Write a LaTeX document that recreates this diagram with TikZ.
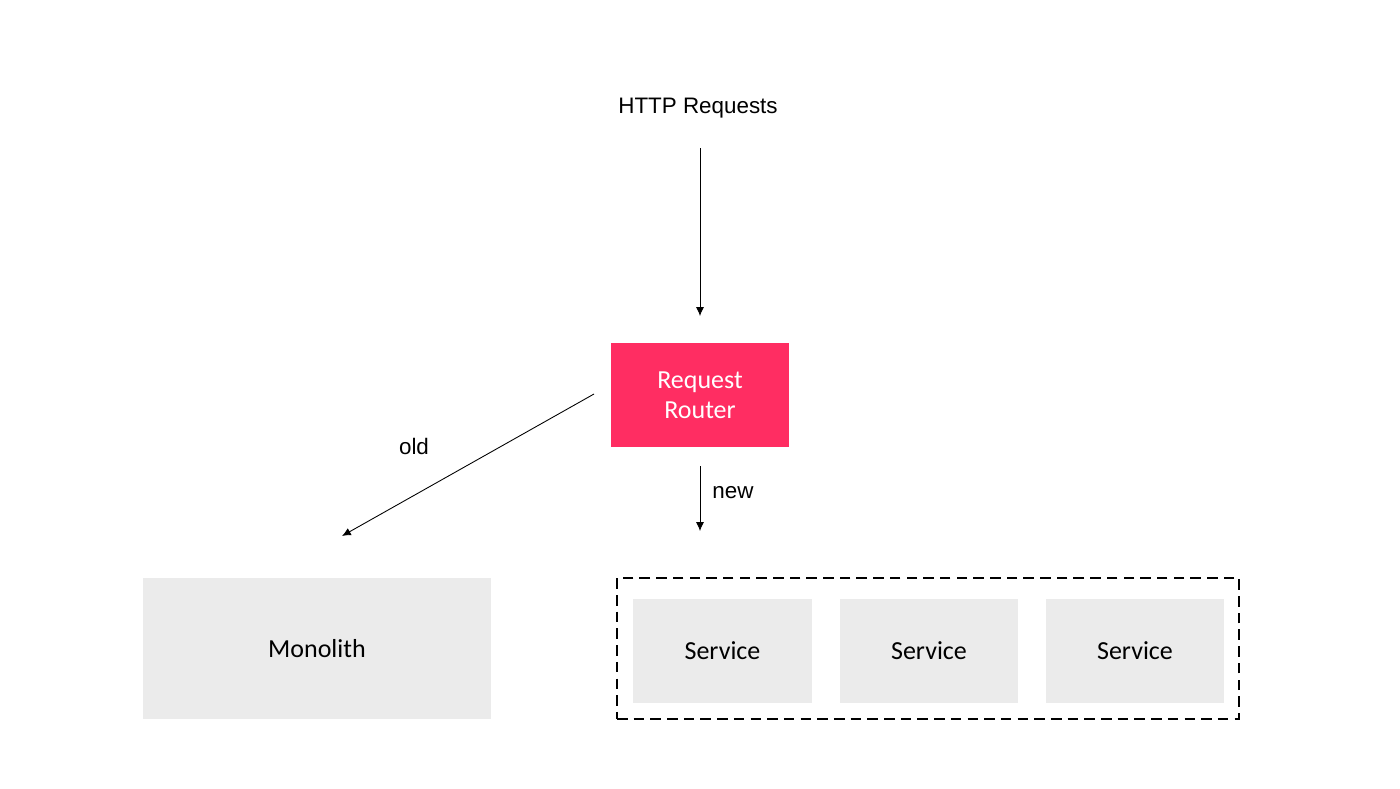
\documentclass[tikz,border=0pt]{standalone}
\usepackage{fontspec}
\setmainfont{Liberation Sans}
\newfontfamily\calfont{Carlito}
\usetikzlibrary{arrows.meta}
\definecolor{routerred}{HTML}{FF2D62}
\definecolor{boxgray}{HTML}{EBEBEB}
\begin{document}
\begin{tikzpicture}[x=0.02cm,y=-0.02cm,
  lbl/.style={font=\fontsize{12.75}{15}\selectfont, inner sep=0pt},
  graybox/.style={fill=boxgray, draw=none, font=\calfont\fontsize{14.8}{17}\selectfont, inner sep=0pt},
  conn/.style={draw=black, line width=0.5pt, -{Latex[length=5pt,width=4.5pt]}}]
\useasboundingbox (0,0) rectangle (1400,788);
\node[lbl] (http) at (698,108) {HTTP Requests};
\coordinate (httpend) at (700,148);
\node[fill=routerred, inner sep=0pt, minimum width=178*0.02cm, minimum height=104*0.02cm,
  text=white, align=center, font=\calfont\fontsize{14.8}{17}\selectfont] (router) at (700,395) {Request\\Router};
\coordinate (routerin) at (700,316);
\draw[conn] (httpend) -- (routerin);
\node[graybox, minimum width=348*0.02cm, minimum height=141*0.02cm] (mono) at (317,648.5) {Monolith};
\node[draw=black, dashed, line width=0.6pt, dash pattern=on 6pt off 3.5pt, minimum width=622*0.02cm, minimum height=141*0.02cm, inner sep=0pt] (svcgroup) at (928,648.5) {};
\node[graybox, minimum width=179*0.02cm, minimum height=104*0.02cm] (s1) at (722.5,651) {Service};
\node[graybox, minimum width=178*0.02cm, minimum height=104*0.02cm] (s2) at (929,651) {Service};
\node[graybox, minimum width=178*0.02cm, minimum height=104*0.02cm] (s3) at (1135,651) {Service};
\coordinate (oldstart) at (594,394);
\coordinate (oldend) at (342,536);
\draw[conn] (oldstart) -- (oldend);
\node[lbl] (oldlbl) at (414,446) {old};
\coordinate (newstart) at (700,466);
\coordinate (newend) at (700,531);
\draw[conn] (newstart) -- (newend);
\node[lbl] (newlbl) at (733,493) {new};
\end{tikzpicture}
\end{document}
